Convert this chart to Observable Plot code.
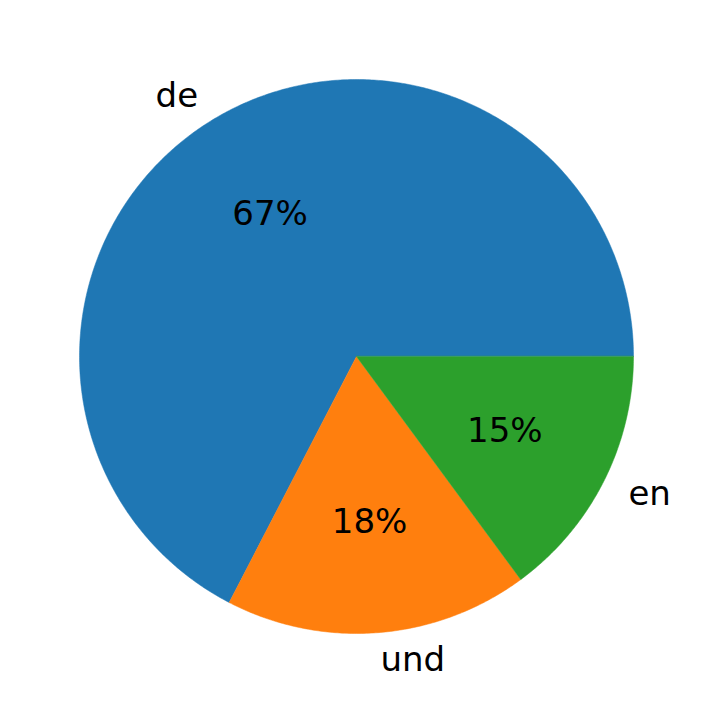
<!DOCTYPE html>
<html>
<head>
<meta charset="utf-8">
<script src="https://cdn.jsdelivr.net/npm/d3@7"></script>
<script src="https://cdn.jsdelivr.net/npm/@observablehq/plot@0.6"></script>
<style>
  html, body { margin: 0; padding: 0; background: #fff; }
  svg { display: block; }
</style>
</head>
<body>
<div id="chart"></div>
<script>
const categories = ["de", "und", "en"];
const shares = [67.4, 17.7, 14.9];
const colors = ["#1f77b4", "#ff7f0e", "#2ca02c"];

// Matplotlib-style pie: start at 3 o'clock, counterclockwise
const total = d3.sum(shares);
let acc = 0;
const slices = categories.map((c, i) => {
  const a0 = acc / total * 2 * Math.PI;
  acc += shares[i];
  const a1 = acc / total * 2 * Math.PI;
  return {category: c, value: shares[i], a0, a1, mid: (a0 + a1) / 2, color: colors[i]};
});

const features = slices.map(s => {
  const n = Math.max(8, Math.ceil((s.a1 - s.a0) / (Math.PI / 360)));
  const ring = [[0, 0]];
  for (let k = 0; k <= n; k++) {
    const a = s.a0 + (s.a1 - s.a0) * k / n;
    ring.push([Math.cos(a), Math.sin(a)]);
  }
  ring.push([0, 0]);
  return {type: "Feature", properties: s, geometry: {type: "Polygon", coordinates: [ring]}};
});

const labels = slices.map(s => ({
  text: s.category,
  x: 1.1 * Math.cos(s.mid),
  y: 1.1 * Math.sin(s.mid),
  side: Math.cos(s.mid) >= 0 ? "start" : "end"
}));
const pcts = slices.map(s => ({
  text: Math.round(s.value / total * 100) + "%",
  x: 0.6 * Math.cos(s.mid),
  y: 0.6 * Math.sin(s.mid)
}));

const chart = Plot.plot({
  width: 712,
  height: 713,
  marginLeft: 79,
  marginRight: 79,
  marginTop: 79,
  marginBottom: 80,
  projection: {
    type: "reflect-y",
    domain: {type: "MultiPoint", coordinates: [[-1, -1], [1, 1]]},
    clip: false
  },
  style: {fontFamily: "DejaVu Sans", background: "#fff"},
  marks: [
    Plot.geo(features, {fill: d => d.properties.color, stroke: d => d.properties.color, strokeWidth: 0.5}),
    Plot.text(pcts, {x: "x", y: "y", text: "text", fontSize: 34, fill: "#000", textAnchor: "middle", clip: false}),
    Plot.text(labels.filter(d => d.side === "start"), {x: "x", y: "y", text: "text", fontSize: 34, fill: "#000", textAnchor: "start", clip: false}),
    Plot.text(labels.filter(d => d.side === "end"), {x: "x", y: "y", text: "text", fontSize: 34, fill: "#000", textAnchor: "end", clip: false})
  ]
});
document.getElementById("chart").appendChild(chart);
</script>
</body>
</html>
